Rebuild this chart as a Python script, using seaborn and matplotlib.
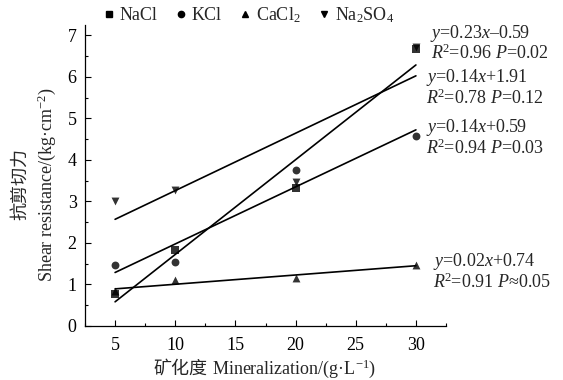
import numpy as np
import pandas as pd
import matplotlib
matplotlib.use("Agg")
import matplotlib.pyplot as plt
import seaborn as sns
from matplotlib.ticker import MultipleLocator

sns.set_style("ticks")
plt.rcParams['font.family'] = ['Liberation Serif', 'Noto Sans CJK SC', 'DejaVu Sans']
plt.rcParams['mathtext.fontset'] = 'custom'
plt.rcParams['mathtext.rm'] = 'Liberation Serif'
plt.rcParams['mathtext.it'] = 'Liberation Serif:italic'
plt.rcParams['mathtext.bf'] = 'Liberation Serif:bold'

# Data
mineralization = [5, 10, 20, 30]
nacl = [0.78, 1.82, 3.32, 6.68]
kcl = [1.47, 1.55, 3.75, 4.57]
cacl2 = [0.85, 1.10, 1.15, 1.48]
na2so4 = [3.02, 3.28, 3.48, 6.72]
series_names = ['NaCl', 'KCl', 'CaCl$_2$', 'Na$_2$SO$_4$']
series_values = [nacl, kcl, cacl2, na2so4]
markers = ['s', 'o', '^', 'v']
equations = [
    ('$y$=0.23$x$\u20130.59', '$R$$^2$=0.96 $P$=0.02'),
    ('$y$=0.14$x$+0.59', '$R$$^2$=0.94 $P$=0.03'),
    ('$y$=0.02$x$+0.74', '$R$$^2$=0.91 $P$\u22480.05'),
    ('$y$=0.14$x$+1.91', '$R$$^2$=0.78 $P$=0.12'),
]

df = pd.DataFrame({'x': mineralization * 4,
                   'y': nacl + kcl + cacl2 + na2so4,
                   'salt': sum([[n] * 4 for n in series_names], [])})

FS = 13
W, H = 563, 380
fig = plt.figure(figsize=(W / 100, H / 100), dpi=100)
ax = fig.add_axes([85 / W, 1 - 326 / H, (446 - 85) / W, (326 - 25) / H])

handles = []
for name, m in zip(series_names, markers):
    sub = df[df['salt'] == name]
    sns.regplot(data=sub, x='x', y='y', ax=ax, ci=None, marker=m, color='black',
                scatter_kws={'s': 32, 'linewidths': 0, 'zorder': 3},
                line_kws={'lw': 1.2, 'color': 'black'})
    handles.append(plt.Line2D([], [], ls='none', marker=m, color='black', markersize=4.5, label=name))

ax.set_xlim(2.5, 32.5)
ax.set_ylim(0, 7.25)
ax.xaxis.set_major_locator(MultipleLocator(5))
ax.xaxis.set_minor_locator(MultipleLocator(2.5))
ax.yaxis.set_major_locator(MultipleLocator(1))
ax.yaxis.set_minor_locator(MultipleLocator(0.5))
ax.tick_params(which='both', direction='in', labelsize=FS, colors='black')
ax.tick_params(which='major', length=4, width=0.8)
ax.tick_params(which='minor', length=2.5, width=0.8)
ax.tick_params(axis='x', pad=8)
ax.tick_params(axis='y', pad=6)
ax.set_xlabel('')
ax.set_ylabel('')
for s in ['top', 'right']:
    ax.spines[s].set_visible(False)
for s in ['left', 'bottom']:
    ax.spines[s].set_color('black')
    ax.spines[s].set_linewidth(0.9)

fig.legend(handles=handles, loc='center', bbox_to_anchor=(247 / W, 1 - 15 / H), ncol=4,
           frameon=False, fontsize=FS, handletextpad=0.1, columnspacing=0.8,
           handlelength=1.0, borderaxespad=0)

def ftxt(x, y, s, **kw):
    fig.text(x / W, 1 - y / H, s, fontsize=FS, va='center', **kw)

# equations
ftxt(430, 34, equations[0][0]); ftxt(431, 53, equations[0][1])
ftxt(426, 77, equations[3][0]); ftxt(426, 98, equations[3][1])
ftxt(426, 127, equations[1][0]); ftxt(426, 148, equations[1][1])
ftxt(433, 262, equations[2][0]); ftxt(433, 282, equations[2][1])

# axis labels
fig.text(20 / W, 1 - 184 / H, '抗剪切力', fontsize=FS, rotation=90, ha='center', va='center',
         family=['Noto Sans CJK SC'])
fig.text(47 / W, 1 - 185 / H, 'Shear resistance/(kg·cm$^{-2}$)', fontsize=FS, rotation=90,
         ha='center', va='center')
fig.text(207 / W, 1 - 369 / H, '矿化度', fontsize=FS, ha='right', va='center',
         family=['Noto Sans CJK SC'])
fig.text(212 / W, 1 - 369 / H, 'Mineralization/(g·L$^{-1}$)', fontsize=FS,
         ha='left', va='center')

fig.savefig('out.png', dpi=100)
